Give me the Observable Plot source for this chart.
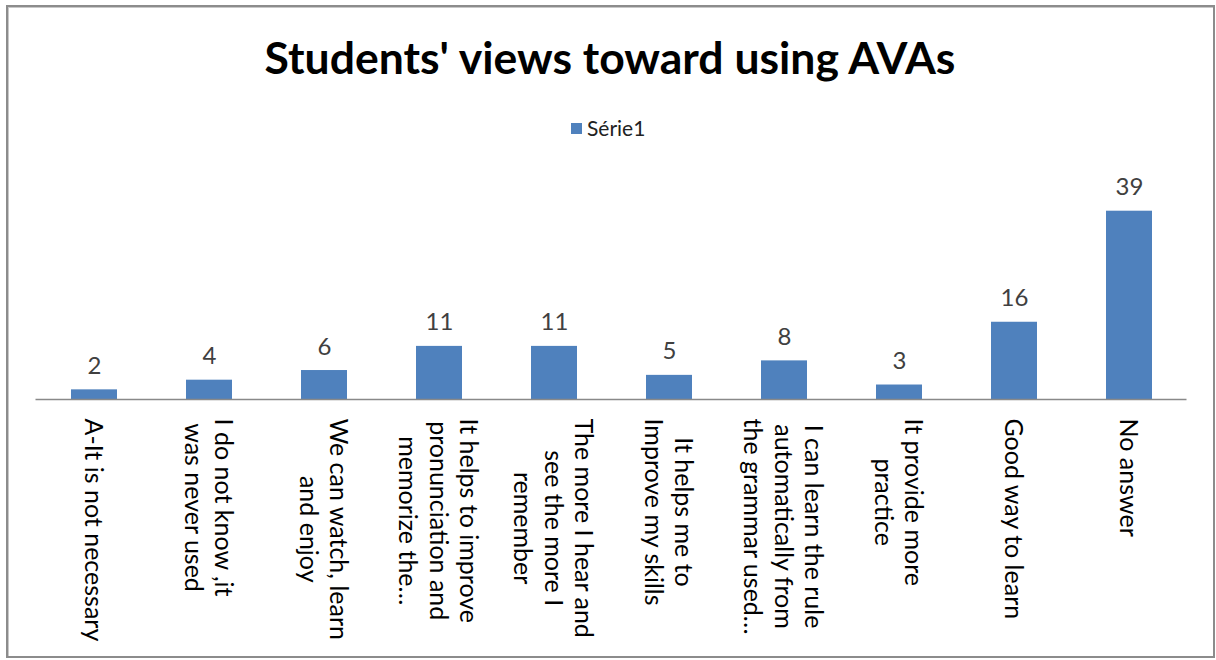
<!DOCTYPE html>
<html><head><meta charset="utf-8">
<script src="https://cdn.jsdelivr.net/npm/d3@7"></script>
<script src="https://cdn.jsdelivr.net/npm/@observablehq/plot@0.6"></script>
<style>
body{margin:0;background:#fff;font-family:Lato,"Open Sans",sans-serif;}
#frame{position:absolute;left:6px;top:5px;width:1209px;height:653px;border:2px solid #8c8c8c;box-sizing:border-box;box-shadow:inset 1px 1px 0 #c8c8c8;}
#title{position:absolute;left:0;width:1220px;top:32px;text-align:center;font-weight:700;font-size:44.5px;line-height:50px;color:#000;}
#legend{position:absolute;left:571px;top:116px;font-size:21px;line-height:24px;color:#222;display:flex;align-items:center;}
#legend .sw{display:inline-block;width:11px;height:11px;background:#4F81BD;margin-right:5px;}
#chart{position:absolute;left:0;top:150px;}
</style></head>
<body>
<div id="frame"></div>
<div id="title"></div>
<div id="legend"></div>
<div id="chart"></div>
<script>
const titleText = "Students' views toward using AVAs";
const seriesName = "Série1";
const categories = [
  "A-It is not necessary",
  "I do not know ,it\nwas never used",
  "We can watch, learn\nand enjoy",
  "It helps to improve\npronunciation and\nmemorize the…",
  "The more I hear and\nsee the more I\nremember",
  "It helps me to\nImprove my skills",
  "I can learn the rule\nautomatically from\nthe grammar used…",
  "It provide more\npractice",
  "Good way to learn",
  "No answer"
];
const values = [2, 4, 6, 11, 11, 5, 8, 3, 16, 39];

document.getElementById("title").textContent = titleText;
const lg = document.getElementById("legend");
const sw = document.createElement("span"); sw.className = "sw";
lg.append(sw, document.createTextNode(seriesName));

const data = categories.map((c, i) => ({cat: c, value: values[i]}));

const plot = Plot.plot({
  width: 1216, height: 500,
  marginLeft: 35.5, marginRight: 29.5, marginTop: 60.7, marginBottom: 251,
  x: {domain: categories, paddingInner: 0.6, paddingOuter: 0.3, axis: null},
  y: {domain: [0, 39], axis: null},
  style: {fontFamily: "Lato, 'Open Sans', sans-serif", background: "transparent", overflow: "visible"},
  marks: [
    Plot.barY(data, {x: "cat", y: "value", fill: "#4F81BD"}),
    Plot.ruleY([0], {stroke: "#898989", strokeWidth: 1.5}),
    Plot.text(data, {x: "cat", y: "value", text: d => String(d.value), dy: -16, lineAnchor: "bottom", fontSize: 24, fill: "#404040"}),
    Plot.text(data, {x: "cat", y: 0, text: "cat", rotate: 90, textAnchor: "start", lineAnchor: "middle", dy: 19, fontSize: 25, lineHeight: 1.22, fill: "#000"})
  ]
});
document.getElementById("chart").append(plot);

function centerLines() {
  plot.querySelectorAll("text").forEach(t => {
    const tr = t.getAttribute("transform") || "";
    if (!tr.includes("rotate(90")) return;
    const spans = [...t.querySelectorAll("tspan")];
    if (spans.length < 2) return;
    const lens = spans.map(s => s.getComputedTextLength());
    const m = Math.max(...lens);
    spans.forEach((s, i) => s.setAttribute("x", (m - lens[i]) / 2));
  });
}
centerLines();
if (document.fonts && document.fonts.ready) document.fonts.ready.then(centerLines);
</script>
</body></html>
